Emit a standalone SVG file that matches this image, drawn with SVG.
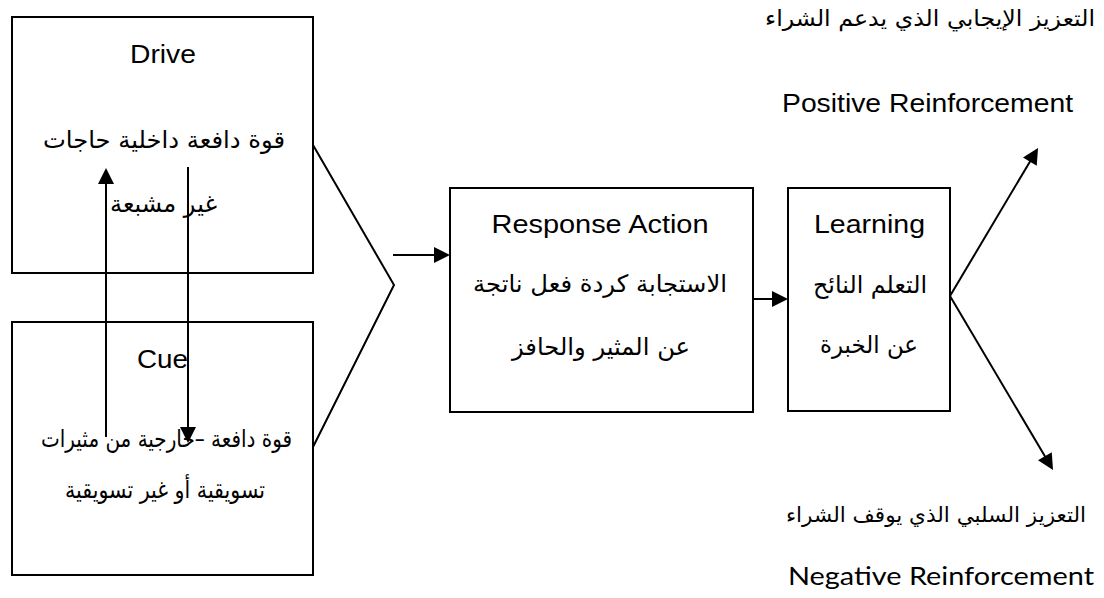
<svg xmlns="http://www.w3.org/2000/svg" width="1104" height="598" viewBox="0 0 1104 598">
<style>
.box{fill:#fff;stroke:#000;stroke-width:2}
.ln{fill:none;stroke:#000;stroke-width:2}
.en{font-family:"Liberation Sans",Arial,sans-serif;font-size:25px;fill:#000;text-anchor:middle}
.cal{font-family:Lato,"Liberation Sans",sans-serif;font-size:25px;fill:#000;text-anchor:middle}
.ar{font-family:"DejaVu Sans","Noto Sans",sans-serif;font-size:24px;fill:#000;text-anchor:middle}
</style>
<defs>
<marker id="ah" markerUnits="userSpaceOnUse" markerWidth="16" markerHeight="16" refX="12" refY="8" orient="auto" overflow="visible">
<path d="M0,0 L16,8 L0,16 Z" fill="#000"/>
</marker>
</defs>
<rect width="1104" height="598" fill="#fff"/>
<g id="drive">
<rect class="box" x="12" y="17" width="301" height="256"/>
<text class="en" x="163" y="63" textLength="66" lengthAdjust="spacingAndGlyphs">Drive</text>
<text class="ar" x="164" y="148" textLength="242" lengthAdjust="spacingAndGlyphs">قوة دافعة داخلية حاجات</text>
<text class="ar" x="163.5" y="212" textLength="107" lengthAdjust="spacingAndGlyphs">غير مشبعة</text>
</g>
<g id="cue">
<rect class="box" x="12" y="322" width="301" height="253"/>
<text class="en" x="162.5" y="368" textLength="51" lengthAdjust="spacingAndGlyphs">Cue</text>
<text class="ar" x="166.5" y="447" textLength="251" lengthAdjust="spacingAndGlyphs">قوة دافعة –خارجية من مثيرات</text>
<text class="ar" x="165" y="498" textLength="200" lengthAdjust="spacingAndGlyphs">تسويقية أو غير تسويقية</text>
</g>
<g id="response">
<rect class="box" x="450" y="188" width="303" height="224"/>
<text class="en" x="600" y="233" textLength="217" lengthAdjust="spacingAndGlyphs">Response Action</text>
<text class="ar" x="600" y="292" textLength="254" lengthAdjust="spacingAndGlyphs">الاستجابة كردة فعل ناتجة</text>
<text class="ar" x="601" y="355" textLength="178" lengthAdjust="spacingAndGlyphs">عن المثير والحافز</text>
</g>
<g id="learning">
<rect class="box" x="788" y="188" width="162" height="223"/>
<text class="en" x="869.5" y="233" textLength="111" lengthAdjust="spacingAndGlyphs">Learning</text>
<text class="ar" x="870" y="293" textLength="114" lengthAdjust="spacingAndGlyphs">التعلم النائح</text>
<text class="ar" x="869" y="353" textLength="98" lengthAdjust="spacingAndGlyphs">عن الخبرة</text>
</g>
<g id="positive">
<text class="ar" x="930" y="26" textLength="330" lengthAdjust="spacingAndGlyphs" style="font-size:22px">التعزيز الإيجابي الذي يدعم الشراء</text>
<text class="en" x="927.5" y="112" textLength="291" lengthAdjust="spacingAndGlyphs">Positive Reinforcement</text>
</g>
<g id="negative">
<text class="ar" x="936" y="522" textLength="300" lengthAdjust="spacingAndGlyphs" style="font-size:21px">التعزيز السلبي الذي يوقف الشراء</text>
<text class="cal" x="941" y="585" textLength="306" lengthAdjust="spacingAndGlyphs">Negative Reinforcement</text>
</g>
<g id="connectors">
<polyline class="ln" points="313,145 394,285 313,447"/>
<line class="ln" x1="393" y1="255" x2="446" y2="255" marker-end="url(#ah)"/>
<line class="ln" x1="753" y1="299" x2="784" y2="299" marker-end="url(#ah)"/>
<line class="ln" x1="106" y1="437" x2="106" y2="172" marker-end="url(#ah)"/>
<line class="ln" x1="188" y1="167" x2="188" y2="439" marker-end="url(#ah)"/>
<line class="ln" x1="950" y1="296" x2="1036" y2="151.4" marker-end="url(#ah)"/>
<line class="ln" x1="950" y1="296" x2="1051" y2="466.6" marker-end="url(#ah)"/>
</g>
</svg>
